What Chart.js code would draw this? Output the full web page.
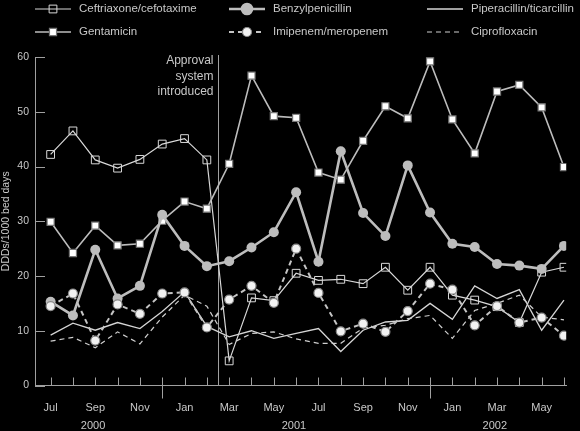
<!DOCTYPE html>
<html>
<head>
<meta charset="utf-8">
<script src="https://cdn.jsdelivr.net/npm/chart.js@4.4.1/dist/chart.umd.min.js"></script>
<style>
  html, body { margin: 0; padding: 0; background: #000; }
  #wrap { width: 580px; height: 431px; position: relative; }
</style>
</head>
<body>
<div id="wrap"><canvas id="chart"></canvas></div>
<script>
// months Jul 2000 .. Jun 2002
var months = ['Jul', 'Aug', 'Sep', 'Oct', 'Nov', 'Dec',
              'Jan', 'Feb', 'Mar', 'Apr', 'May', 'Jun', 'Jul', 'Aug', 'Sep', 'Oct', 'Nov', 'Dec',
              'Jan', 'Feb', 'Mar', 'Apr', 'May', 'Jun'];
var years = ['2000', '2001', '2002'];
var yearStart = [0, 6, 18];
var approvalAt = 7.5; // between Feb and Mar 2001

var ceftriaxone = [42.2, 46.5, 41.2, 39.7, 41.3, 44.1, 45.1, 41.2, 4.5, 16.0, 15.5, 20.5,
                   19.2, 19.4, 18.6, 21.6, 17.4, 21.6, 16.5, 15.6, 14.4, 11.5, 20.7, 21.6];
var benzylpenicillin = [15.3, 12.8, 24.8, 15.9, 18.2, 31.2, 25.5, 21.8, 22.7, 25.2, 28.0, 35.3,
                        22.6, 42.8, 31.5, 27.3, 40.2, 31.6, 25.9, 25.3, 22.2, 21.9, 21.3, 25.5];
var piperacillin = [9.2, 11.4, 10.1, 11.5, 10.4, 13.5, 17.1, 10.8, 8.9, 10.0, 8.6, 9.5,
                    10.4, 6.2, 10.1, 11.6, 11.9, 15.0, 12.1, 18.2, 15.9, 17.5, 10.1, 15.6];
var gentamicin = [29.9, 24.2, 29.2, 25.6, 25.9, 30.1, 33.6, 32.3, 40.5, 56.6, 49.2, 48.9,
                  38.9, 37.6, 44.7, 51.0, 48.8, 59.2, 48.6, 42.4, 53.7, 54.9, 50.8, 39.9];
var imipenem = [14.5, 16.8, 8.2, 14.8, 13.1, 16.8, 17.0, 10.6, 15.7, 18.2, 15.1, 25.0,
                16.9, 9.9, 11.3, 9.8, 13.6, 18.6, 17.5, 11.0, 14.5, 11.5, 12.4, 9.1];
var ciprofloxacin = [8.1, 8.8, 6.9, 9.8, 7.6, 12.5, 16.5, 14.5, 7.5, 9.5, 9.8, 8.5,
                     7.7, 7.7, 10.5, 11.0, 12.2, 12.8, 8.6, 13.7, 15.0, 16.5, 12.5, 12.0];

var FONT = '"Liberation Sans", Arial, sans-serif';
var TEXT = '#c8c8c8';
var AXIS = '#a0a0a0';

function pts(arr) {
    return arr.map(function (v, i) { return { x: i, y: v }; });
}

// legend layout: [label, column, row]
var legendItems = [
    { label: 'Ceftriaxone/cefotaxime', ds: 5, col: 0, row: 0 },
    { label: 'Benzylpenicillin', ds: 1, col: 1, row: 0 },
    { label: 'Piperacillin/ticarcillin', ds: 3, col: 2, row: 0 },
    { label: 'Gentamicin', ds: 4, col: 0, row: 1 },
    { label: 'Imipenem/meropenem', ds: 0, col: 1, row: 1 },
    { label: 'Ciprofloxacin', ds: 2, col: 2, row: 1 }
];
var legendCols = [35, 229, 427];
var legendRows = [9, 32];

function marker(ctx, ds, x, y) {
    var r = ds.pointRadius || 0;
    if (!r) return;
    ctx.save();
    ctx.setLineDash([]);
    ctx.lineWidth = ds.pointBorderWidth;
    ctx.strokeStyle = ds.pointBorderColor;
    ctx.fillStyle = ds.pointBackgroundColor;
    ctx.beginPath();
    if (ds.pointStyle === 'rect') {
        var s = r * Math.SQRT1_2;
        ctx.rect(x - s, y - s, 2 * s, 2 * s);
    } else {
        ctx.arc(x, y, r, 0, Math.PI * 2);
    }
    ctx.fill();
    ctx.stroke();
    ctx.restore();
}

var decor = {
    id: 'decor',
    beforeDatasetsDraw: function (chart) {
        var ctx = chart.ctx, xs = chart.scales.x, ys = chart.scales.y, a = chart.chartArea;
        ctx.save();
        ctx.strokeStyle = AXIS;
        ctx.lineWidth = 1;
        ctx.beginPath();
        ys.ticks.forEach(function (t) {
            var py = Math.round(ys.getPixelForValue(t.value)) + 0.5;
            ctx.moveTo(a.left, py);
            ctx.lineTo(a.left + 10, py);
        });
        months.forEach(function (m, i) {
            var px = Math.round(xs.getPixelForValue(i)) + 0.5;
            var down = (m === 'Dec') ? 13 : 0;
            ctx.moveTo(px, a.bottom - 8);
            ctx.lineTo(px, a.bottom + down);
        });
        var ax = Math.round(xs.getPixelForValue(approvalAt)) + 0.5;
        ctx.moveTo(ax, a.top - 2);
        ctx.lineTo(ax, a.bottom);
        ctx.stroke();

        ctx.fillStyle = TEXT;
        ctx.font = '12px ' + FONT;
        ctx.textAlign = 'right';
        ctx.textBaseline = 'middle';
        ['Approval', 'system', 'introduced'].forEach(function (s, k) {
            ctx.fillText(s, ax - 5, 61 + k * 15.5);
        });

        ctx.font = '11px ' + FONT;
        ctx.textAlign = 'center';
        years.forEach(function (yr, k) {
            var end = k + 1 < yearStart.length ? yearStart[k + 1] : months.length;
            var mid = (yearStart[k] + end - 1) / 2 - 0.6;
            ctx.fillText(yr, xs.getPixelForValue(mid), 426);
        });
        ctx.restore();
    },
    afterDraw: function (chart) {
        var ctx = chart.ctx;
        ctx.save();
        legendItems.forEach(function (it) {
            var ds = chart.data.datasets[it.ds];
            var x0 = legendCols[it.col], y0 = legendRows[it.row];
            ctx.strokeStyle = ds.borderColor;
            ctx.lineWidth = ds.borderWidth;
            ctx.setLineDash(ds.borderDash || []);
            ctx.beginPath();
            ctx.moveTo(x0, y0);
            ctx.lineTo(x0 + 36, y0);
            ctx.stroke();
            marker(ctx, ds, x0 + 18, y0);
            ctx.fillStyle = TEXT;
            ctx.font = '11.5px ' + FONT;
            ctx.textAlign = 'left';
            ctx.textBaseline = 'middle';
            ctx.fillText(it.label, x0 + 44, y0);
        });
        ctx.restore();
    }
};

new Chart(document.getElementById('chart'), {
    type: 'line',
    data: {
        datasets: [
            {
                label: 'Imipenem/meropenem', data: pts(imipenem),
                borderColor: '#c4c4c4', borderWidth: 2, borderDash: [5, 4],
                pointStyle: 'circle', pointRadius: 4.5, pointBorderWidth: 1.2,
                pointBackgroundColor: '#f2f2f2', pointBorderColor: '#8a8a8a'
            },
            {
                label: 'Benzylpenicillin', data: pts(benzylpenicillin),
                borderColor: '#bdbdbd', borderWidth: 2.6,
                pointStyle: 'circle', pointRadius: 5, pointBorderWidth: 0,
                pointBackgroundColor: '#bdbdbd', pointBorderColor: '#bdbdbd'
            },
            {
                label: 'Ciprofloxacin', data: pts(ciprofloxacin),
                borderColor: '#cfcfcf', borderWidth: 1.2, borderDash: [5, 4],
                pointRadius: 0
            },
            {
                label: 'Piperacillin/ticarcillin', data: pts(piperacillin),
                borderColor: '#d4d4d4', borderWidth: 1.3,
                pointRadius: 0
            },
            {
                label: 'Gentamicin', data: pts(gentamicin),
                borderColor: '#bcbcbc', borderWidth: 1.6,
                pointStyle: 'rect', pointRadius: 5, pointBorderWidth: 1.2,
                pointBackgroundColor: '#ffffff', pointBorderColor: '#777777'
            },
            {
                label: 'Ceftriaxone/cefotaxime', data: pts(ceftriaxone),
                borderColor: '#d8d8d8', borderWidth: 1.2,
                pointStyle: 'rect', pointRadius: 5.5, pointBorderWidth: 1,
                pointBackgroundColor: 'rgba(0,0,0,0)', pointBorderColor: '#d8d8d8'
            }
        ]
    },
    options: {
        responsive: true,
        maintainAspectRatio: false,
        animation: false,
        events: [],
        layout: { padding: { top: 57, right: 1, bottom: 0, left: 0 } },
        plugins: { legend: { display: false }, tooltip: { enabled: false } },
        scales: {
            x: {
                type: 'linear', min: -0.7, max: 23.1,
                afterBuildTicks: function (s) {
                    s.ticks = months.map(function (m, i) { return { value: i }; });
                },
                afterFit: function (s) { s.height = 45.5; },
                grid: { display: false, drawTicks: false },
                border: { display: true, color: AXIS, width: 1 },
                ticks: {
                    autoSkip: false, maxRotation: 0, padding: 16,
                    color: TEXT, font: { family: FONT, size: 11 },
                    callback: function (v) { return v % 2 === 0 ? months[v] : ''; }
                }
            },
            y: {
                min: 0, max: 60,
                afterFit: function (s) { s.width = 35; },
                grid: { display: false, drawTicks: false },
                border: { display: true, color: AXIS, width: 1 },
                ticks: { stepSize: 10, padding: 6, color: TEXT, font: { family: FONT, size: 10.5 } },
                title: {
                    display: true, text: 'DDDs/1000 bed days', color: TEXT,
                    font: { family: FONT, size: 10.5 }, padding: { top: 0, bottom: 2 }
                }
            }
        }
    },
    plugins: [decor]
});
</script>
</body>
</html>
